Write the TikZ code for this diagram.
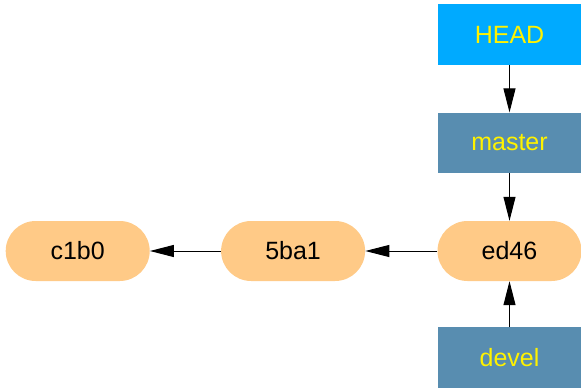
\documentclass[tikz,border=0pt]{standalone}
\usepackage{fontspec}
\setmainfont{Liberation Sans}
\usetikzlibrary{arrows.meta,positioning}

\definecolor{commitfill}{RGB}{255,202,135}
\definecolor{headfill}{RGB}{0,170,255}
\definecolor{branchfill}{RGB}{88,141,176}

\begin{document}
\begin{tikzpicture}[x=1pt,y=1pt,
    commit/.style={fill=commitfill, rounded corners=30pt, minimum width=144pt,
        minimum height=60pt, inner sep=0pt, font=\fontsize{25}{30}\selectfont},
    branch/.style={fill=branchfill, text=yellow, minimum width=143pt,
        minimum height=60pt, inner sep=0pt, font=\fontsize{25}{30}\selectfont},
    ref/.style={branch, fill=headfill, minimum height=61pt},
    arr/.style={-{Triangle[length=24pt,width=12pt]}, line width=1pt}]
    \useasboundingbox (0,0) rectangle (581,-388);
    % commits
    \node[commit] (ed46) at (509.5,-251) {ed46};
    \node[commit, left=72pt of ed46] (5ba1) {5ba1};
    \node[commit, left=71pt of 5ba1] (c1b0) {c1b0};
    % refs
    \node[branch, above=48pt of ed46] (master) {master};
    \node[ref, above=47pt of master] (HEAD) {HEAD};
    \node[branch, below=46pt of ed46, minimum height=61pt] (devel) {devel};
    % edges
    \draw[arr] (ed46) -- (5ba1);
    \draw[arr] (5ba1) -- (c1b0);
    \draw[arr] (HEAD) -- (master);
    \draw[arr] (master) -- (ed46);
    \draw[arr] (devel) -- (ed46);
\end{tikzpicture}
\end{document}
